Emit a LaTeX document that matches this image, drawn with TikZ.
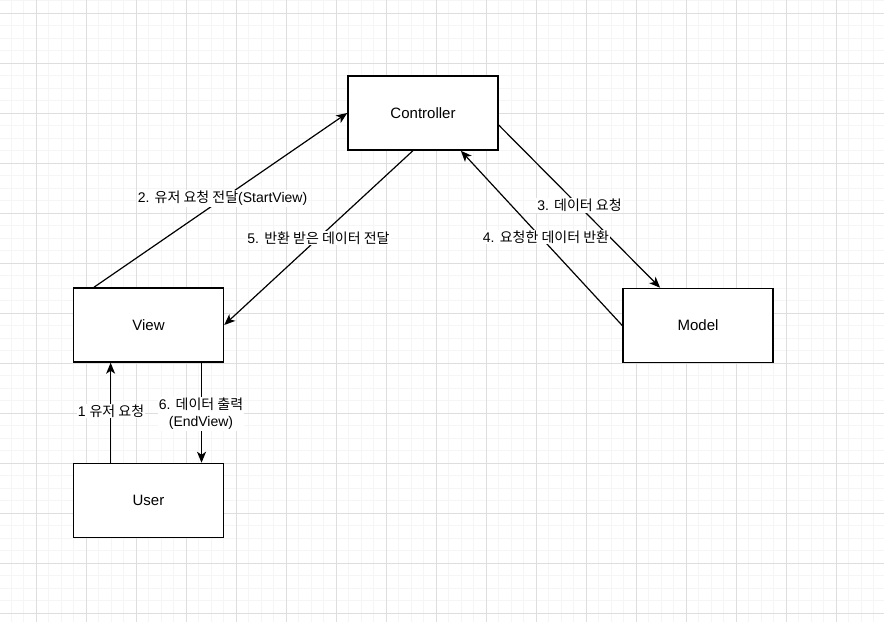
\documentclass[tikz,border=0pt]{standalone}
\usepackage{fontspec}
\setmainfont{Liberation Sans}
\newfontfamily\kr{Noto Sans CJK KR}
\usetikzlibrary{arrows.meta,calc}
\begin{document}
\begin{tikzpicture}[x=1pt,y=-1pt,
  box/.style={draw=black, line width=1.5pt, fill=white, minimum width=150pt, minimum height=74pt, inner sep=0pt, font=\fontsize{15}{18}\selectfont},
  conn/.style={line width=1.2pt, -{Stealth[length=11pt,width=9pt,inset=3pt]}},
  lbl/.style={fill=white, inner sep=1pt, font=\fontsize{14}{17}\selectfont, align=center},
  minorgrid/.style={draw=black!4, line width=1pt},
  majorgrid/.style={draw=black!13, line width=1pt},
]
\useasboundingbox (0,0) rectangle (884,622);
\fill[white] (0,0) rectangle (884,622);
% grid
\foreach \x in {11,23.5,...,884} \draw[minorgrid] (\x,0) -- (\x,622);
\foreach \y in {0.8,13.3,...,622} \draw[minorgrid] (0,\y) -- (884,\y);
\foreach \x in {36,86,...,884} \draw[majorgrid] (\x,0) -- (\x,622);
\foreach \y in {13.3,63.3,...,622} \draw[majorgrid] (0,\y) -- (884,\y);

% boxes
\node[box] (ctrl) at (423,113) {Controller};
\node[box] (view) at (148.5,325) {View};
\node[box] (model) at (698,325.5) {Model};
\node[box] (user) at (148.5,500.5) {User};

% connectors
\draw[conn] ($(view.north west)!0.14!(view.north east)$) -- (ctrl.west);
\draw[conn] ($(ctrl.south west)!0.433!(ctrl.south east)$) -- (view.east);
\draw[conn] ($(ctrl.north east)!0.66!(ctrl.south east)$) -- ($(model.north west)!0.25!(model.north east)$);
\draw[conn] (model.west) -- ($(ctrl.south west)!0.75!(ctrl.south east)$);
\draw[conn] ($(user.north west)!0.25!(user.north east)$) -- ($(view.south west)!0.25!(view.south east)$);
\draw[conn] ($(view.south west)!0.85!(view.south east)$) -- ($(user.north west)!0.85!(user.north east)$);

% labels
\node[lbl] (l2) at (222.5,198.5) {2. {\kr 유저 요청 전달}(StartView)};
\node[lbl] (l5) at (318.5,238) {5. {\kr 반환 받은 데이터 전달}};
\node[lbl] (l3) at (579.5,205.5) {3. {\kr 데이터 요청}};
\node[lbl] (l4) at (546,237) {4. {\kr 요청한 데이터 반환}};
\node[lbl] (l1) at (111,411) {1 {\kr 유저 요청}};
\node[lbl] (l6) at (201,414) {6. {\kr 데이터 출력}\\(EndView)};
\end{tikzpicture}
\end{document}
